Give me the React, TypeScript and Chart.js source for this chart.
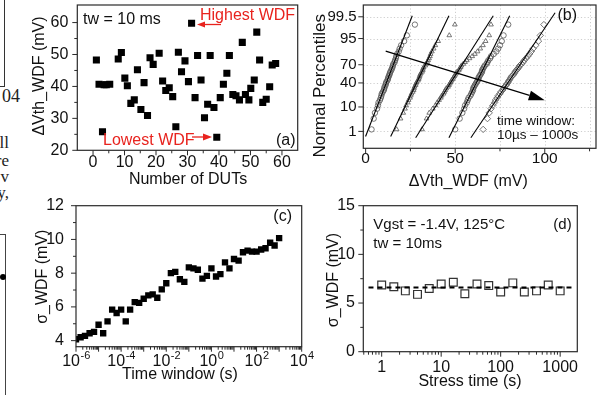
import React, { useEffect, useRef } from 'react';
import { Chart, registerables } from 'chart.js';

Chart.register(...registerables);

const SANS = '"Liberation Sans", Arial, Helvetica, sans-serif';
const SERIF = '"Liberation Serif", "Times New Roman", serif';
const RED = '#e8231e';
const INK = '#111111';
const FRAME = '#2a2a2a';

// ---------------- (a) ΔVth_WDF for each DUT, tw = 10 ms ----------------
const dutNumbers = [1.06, 1.9, 3.0, 3.5, 4.2, 5.3, 8, 9, 10.1, 10.9, 12.0, 13.1, 14.1, 15.2, 16.2, 17.3, 18.1, 19.1, 21, 22.1, 23.1, 24.2, 25.3, 26.3, 27.1, 28.1, 29.2, 30.3, 31.3, 32.4, 33.2, 34.3, 35.4, 36.4, 37.2, 38.4, 39.3, 40.4, 41.4, 42.5, 43.3, 44.4, 45.4, 46.5, 47.4, 48.4, 49.5, 50.1, 51.2, 52.0, 52.9, 53.9, 55.0, 56.1, 56.9, 58.0];
const wdfA = [48.3, 40.7, 25.8, 40.5, 40.5, 40.7, 48.6, 50.6, 42.6, 40.2, 34.7, 35.8, 45.2, 32.8, 41.2, 30.9, 49.0, 46.9, 50.4, 41.7, 38.7, 39.6, 36.8, 27.4, 50.7, 44.6, 48.0, 41.5, 59.8, 36.5, 49.7, 42.0, 30.2, 34.4, 49.7, 33.4, 24.1, 36.5, 40.7, 44.1, 49.7, 37.5, 37.1, 35.8, 53.8, 37.5, 35.8, 39.4, 42.0, 57.0, 48.3, 35.0, 36.0, 39.9, 46.7, 47.2];
const aXTicks = [0, 10, 20, 30, 40, 50, 60];
const aXLabels = ['0', '10', '20', '30', '40', '50', '60'];
const aXMinor = [5, 15, 25, 35, 45, 55];
const aYTicks = [20, 30, 40, 50, 60];
const aYLabels = ['20', '30', '40', '50', '60'];
const aYMinor = [25, 35, 45, 55];

// ---------------- (b) normal probability plots, 10 µs ... 1000 s ----------------
const percentileTicks = [1, 10, 40, 70, 95, 99.5];
const percentileLabels = ['1', '10', '40', '70', '95', '99.5'];
const bXTicks = [0, 50, 100];
const bXLabels = ['0', '50', '100'];
const bXMinor = [25, 75, 125];
const wdfWindow1 = [3.3, 4.5, 5.2, 6.4, 6.9, 7.2, 8.0, 8.5, 8.8, 9.0, 9.6, 10.2, 10.4, 10.6, 11.1, 11.3, 11.5, 12.1, 12.4, 12.6, 12.9, 13.3, 13.5, 13.8, 14.3, 14.6, 15.0, 15.2, 15.5, 16.2, 16.4, 16.9, 17.1, 17.6, 18.5, 19.0, 19.8, 21.5, 23.0, 27.5];
const wdfWindow2 = [17.3, 19.5, 21.0, 22.0, 22.6, 23.5, 24.0, 24.8, 25.2, 25.6, 26.3, 26.8, 27.0, 27.3, 27.9, 28.1, 28.5, 29.2, 29.6, 29.9, 30.1, 30.4, 30.8, 31.5, 31.9, 32.0, 32.4, 33.3, 33.8, 34.4, 34.9, 35.4, 35.9, 36.3, 37.0, 38.0, 38.9, 40.5, 46.7, 49.8];
const wdfWindow3 = [31.5, 34.0, 35.5, 37.5, 39.0, 40.0, 41.0, 42.0, 42.5, 43.5, 44.0, 44.5, 45.0, 46.0, 46.5, 47.0, 47.5, 48.0, 48.5, 49.0, 49.5, 50.0, 50.5, 51.0, 52.0, 52.5, 53.0, 53.5, 54.5, 55.5, 56.5, 58.0, 59.5, 61.0, 62.5, 64.0, 65.5, 67.0, 69.0, 70.0];
const wdfWindow4 = [50.0, 52.5, 54.0, 55.0, 55.5, 56.5, 57.0, 57.5, 58.5, 59.0, 59.5, 60.0, 60.0, 60.5, 61.0, 61.5, 62.0, 62.5, 63.0, 63.0, 63.5, 64.0, 64.5, 65.0, 65.0, 65.5, 66.0, 66.5, 67.5, 68.0, 68.5, 69.5, 70.0, 71.5, 73.0, 74.0, 75.0, 76.0, 77.0, 79.6];
const wdfWindow5 = [65.6, 68.0, 69.0, 70.0, 71.0, 72.0, 72.5, 73.5, 74.0, 75.0, 75.5, 76.5, 77.0, 77.5, 78.5, 79.0, 79.5, 80.0, 80.5, 81.0, 81.5, 82.5, 83.0, 83.5, 84.0, 85.0, 85.5, 86.0, 87.0, 88.0, 88.5, 89.5, 90.5, 91.5, 92.5, 93.5, 95.0, 96.5, 97.5, 99.5];
const windowGroups = [wdfWindow1, wdfWindow2, wdfWindow3, wdfWindow4, wdfWindow5];
const groupMarkers = ['circle', 'triangle', 'triangle', 'circle', 'rectRot'];
const fitMean = [12.8, 30.0, 49.5, 63.4, 81.6];
const fitSigma = [5.05, 6.3, 8.3, 6.5, 8.8];
const fitLowPct = [0.55, 0.55, 0.47, 0.47, 0.47];
const fitHighPct = [99.56, 99.56, 99.56, 99.56, 99.7];
const trendFrom = { wdf: 11.2, pct: 86.6 };
const trendTo = { wdf: 100, pct: 16.1 };

// ---------------- (c) σ_WDF vs time window ----------------
const timeWindow = [1e-6, 1.6e-6, 2.5e-6, 4e-6, 6.3e-6, 1e-5, 1.6e-5, 2.5e-5, 4e-5, 6.3e-5, 1e-4, 1.6e-4, 2.5e-4, 4e-4, 6.3e-4, 1e-3, 1.6e-3, 2.5e-3, 4e-3, 6.3e-3, 1e-2, 1.6e-2, 2.5e-2, 4e-2, 6.3e-2, 0.1, 0.16, 0.25, 0.4, 0.63, 1, 1.6, 2.5, 4, 6.3, 10, 16, 25, 40, 63, 100, 160, 250, 400, 630, 1000];
const sigmaWindow = [4.08, 4.2, 4.28, 4.44, 4.52, 4.94, 4.44, 5.14, 5.84, 5.64, 5.84, 5.14, 5.84, 6.28, 6.24, 6.48, 6.68, 6.74, 6.54, 7.04, 7.4, 8.0, 8.08, 7.64, 7.48, 8.34, 8.28, 8.2, 7.68, 7.84, 8.28, 7.8, 7.94, 8.64, 8.28, 8.84, 8.74, 9.24, 9.34, 9.28, 9.28, 9.4, 9.48, 9.8, 9.64, 10.08];
const cXTicks = [1e-6, 1e-5, 1e-4, 1e-3, 1e-2, 1e-1, 1, 10, 100, 1000, 10000];
const cXLabelValues = [1e-6, 1e-4, 1e-2, 1, 100, 10000];
const cXLabelExps = ['-6', '-4', '-2', '0', '2', '4'];
const cYTicks = [4, 6, 8, 10, 12];
const cYLabels = ['4', '6', '8', '10', '12'];
const cYMinor = [5, 7, 9, 11];

// ---------------- (d) σ_WDF vs stress time ----------------
const stressTime = [1, 1.6, 2.5, 4, 6.3, 10, 16, 25, 40, 63, 100, 160, 250, 400, 630, 1000];
const sigmaStress = [6.86, 6.68, 6.25, 5.89, 6.5, 6.96, 7.14, 5.96, 6.96, 6.79, 6.14, 7.07, 6.14, 6.25, 6.86, 6.25];
const sigmaStressAvg = 6.6;
const avgLineSpan = [0.6, 1550];
const dXTicks = [1, 10, 100, 1000];
const dXLabels = ['1', '10', '100', '1000'];
const dYTicks = [0, 5, 10, 15];
const dYLabels = ['0', '5', '10', '15'];
const dYMinor = [2.5, 7.5, 12.5];

// ---------------- helpers ----------------
function invNorm(p: number): number {
  const a = [-3.969683028665376e1, 2.209460984245205e2, -2.759285104469687e2, 1.38357751867269e2, -3.066479806614716e1, 2.506628277459239];
  const b = [-5.447609879822406e1, 1.615858368580409e2, -1.556989798598866e2, 6.680131188771972e1, -1.328068155288572e1];
  const c = [-7.784894002430293e-3, -3.223964580411365e-1, -2.400758277161838, -2.549732539343734, 4.374664141464968, 2.938163982698783];
  const d = [7.784695709041462e-3, 3.224671290700398e-1, 2.445134137142996, 3.754408661907416];
  const pl = 0.02425;
  if (p < pl) {
    const q = Math.sqrt(-2 * Math.log(p));
    return (((((c[0] * q + c[1]) * q + c[2]) * q + c[3]) * q + c[4]) * q + c[5]) / ((((d[0] * q + d[1]) * q + d[2]) * q + d[3]) * q + 1);
  }
  if (p <= 1 - pl) {
    const q = p - 0.5;
    const r = q * q;
    return ((((((a[0] * r + a[1]) * r + a[2]) * r + a[3]) * r + a[4]) * r + a[5]) * q) / (((((b[0] * r + b[1]) * r + b[2]) * r + b[3]) * r + b[4]) * r + 1);
  }
  const q = Math.sqrt(-2 * Math.log(1 - p));
  return -(((((c[0] * q + c[1]) * q + c[2]) * q + c[3]) * q + c[4]) * q + c[5]) / ((((d[0] * q + d[1]) * q + d[2]) * q + d[3]) * q + 1);
}
const probit = (pct: number) => invNorm(pct / 100);

function logMinors(min: number, max: number): number[] {
  const out: number[] = [];
  for (let e = Math.floor(Math.log10(min)); e <= Math.ceil(Math.log10(max)); e++) {
    for (let k = 2; k <= 9; k++) {
      const v = k * Math.pow(10, e);
      if (v > min && v < max) out.push(v);
    }
  }
  return out;
}

interface Txt { text: string; x: number; y: number; size?: number; color?: string; align?: CanvasTextAlign; rotate?: boolean }
interface Arrow { from: { x: number; y: number }; to: { x: number; y: number }; data?: boolean; color?: string; width?: number; headLen?: number; headHalf?: number }
interface Decor {
  xMajor: number[]; xMinor: number[]; yMajor: number[]; yMinor: number[];
  grid?: { x: number[]; y: number[] };
  texts: Txt[];
  arrows?: Arrow[];
  sup?: { values: number[]; exps: string[]; baseline: number };
}

function drawText(ctx: CanvasRenderingContext2D, t: Txt) {
  ctx.save();
  ctx.font = `${t.size ?? 16}px ${SANS}`;
  ctx.fillStyle = t.color ?? INK;
  ctx.textBaseline = 'middle';
  ctx.textAlign = t.align ?? (t.rotate ? 'center' : 'left');
  ctx.translate(t.x, t.y);
  if (t.rotate) ctx.rotate(-Math.PI / 2);
  ctx.fillText(t.text, 0, 0);
  ctx.restore();
}

function makeDecor(d: Decor) {
  return {
    id: 'decor',
    beforeDatasetsDraw(chart: any) {
      if (!d.grid) return;
      const { ctx, chartArea: a, scales } = chart;
      ctx.save();
      ctx.strokeStyle = '#c2c2c2';
      ctx.lineWidth = 0.8;
      ctx.setLineDash([1.2, 2.2]);
      ctx.beginPath();
      d.grid.x.forEach((v) => {
        const p = Math.round(scales.x.getPixelForValue(v)) + 0.5;
        ctx.moveTo(p, a.top); ctx.lineTo(p, a.bottom);
      });
      d.grid.y.forEach((v) => {
        const p = Math.round(scales.y.getPixelForValue(v)) + 0.5;
        ctx.moveTo(a.left, p); ctx.lineTo(a.right, p);
      });
      ctx.stroke();
      ctx.restore();
    },
    afterDraw(chart: any) {
      const { ctx, chartArea: a, scales } = chart;
      ctx.save();
      ctx.strokeStyle = FRAME;
      ctx.lineWidth = 1.2;
      ctx.strokeRect(a.left, a.top, a.right - a.left, a.bottom - a.top);
      ctx.lineWidth = 1;
      ctx.beginPath();
      const xt = (vals: number[], len: number) => vals.forEach((v) => {
        const p = scales.x.getPixelForValue(v);
        ctx.moveTo(p, a.bottom); ctx.lineTo(p, a.bottom + len);
      });
      const yt = (vals: number[], len: number) => vals.forEach((v) => {
        const p = scales.y.getPixelForValue(v);
        ctx.moveTo(a.left, p); ctx.lineTo(a.left - len, p);
      });
      xt(d.xMajor, 5); xt(d.xMinor, 3); yt(d.yMajor, 5); yt(d.yMinor, 3);
      ctx.stroke();
      ctx.restore();

      (d.arrows || []).forEach((ar) => {
        const f = ar.data ? { x: scales.x.getPixelForValue(ar.from.x), y: scales.y.getPixelForValue(ar.from.y) } : ar.from;
        const t = ar.data ? { x: scales.x.getPixelForValue(ar.to.x), y: scales.y.getPixelForValue(ar.to.y) } : ar.to;
        const ang = Math.atan2(t.y - f.y, t.x - f.x);
        const hl = ar.headLen ?? 8, hh = ar.headHalf ?? 3;
        const bx = t.x - hl * Math.cos(ang), by = t.y - hl * Math.sin(ang);
        ctx.save();
        ctx.strokeStyle = ar.color ?? INK;
        ctx.fillStyle = ar.color ?? INK;
        ctx.lineWidth = ar.width ?? 1.2;
        ctx.beginPath(); ctx.moveTo(f.x, f.y); ctx.lineTo(bx, by); ctx.stroke();
        ctx.beginPath();
        ctx.moveTo(t.x, t.y);
        ctx.lineTo(bx + hh * Math.sin(ang), by - hh * Math.cos(ang));
        ctx.lineTo(bx - hh * Math.sin(ang), by + hh * Math.cos(ang));
        ctx.closePath(); ctx.fill();
        ctx.restore();
      });

      if (d.sup) {
        ctx.save();
        ctx.fillStyle = INK;
        ctx.textBaseline = 'alphabetic';
        ctx.textAlign = 'left';
        d.sup.values.forEach((v, i) => {
          const p = scales.x.getPixelForValue(v);
          ctx.font = `16px ${SANS}`;
          const w1 = ctx.measureText('10').width;
          ctx.font = `11px ${SANS}`;
          const w2 = ctx.measureText(d.sup!.exps[i]).width;
          const x0 = p - (w1 + w2) / 2;
          ctx.font = `16px ${SANS}`;
          ctx.fillText('10', x0, d.sup!.baseline);
          ctx.font = `11px ${SANS}`;
          ctx.fillText(d.sup!.exps[i], x0 + w1 + 0.5, d.sup!.baseline - 7);
        });
        ctx.restore();
      }

      d.texts.forEach((t) => drawText(ctx, t));
    },
  };
}

function axisOpts(o: { horizontal: boolean; type?: string; min: number; max: number; ticks: number[]; labels?: string[]; size: number; gap: number; fontSize?: number }) {
  return {
    type: o.type || 'linear',
    position: o.horizontal ? 'bottom' : 'left',
    min: o.min,
    max: o.max,
    afterBuildTicks: (s: any) => { s.ticks = o.ticks.map((v) => ({ value: v })); },
    afterFit: (s: any) => {
      if (o.horizontal) { s.height = o.size; s.paddingLeft = 0; s.paddingRight = 0; }
      else { s.width = o.size; s.paddingTop = 0; s.paddingBottom = 0; }
    },
    grid: { display: false, drawTicks: true, tickLength: o.gap },
    border: { display: false },
    title: { display: false },
    ticks: {
      display: !!o.labels,
      padding: 0,
      autoSkip: false,
      maxRotation: 0,
      minRotation: 0,
      color: INK,
      font: { family: SANS, size: o.fontSize || 16 },
      callback: (_v: any, i: number) => (o.labels ? o.labels[i] : ''),
    },
  };
}

function baseOptions(pad: { top: number; right: number }, x: any, y: any) {
  return {
    responsive: false,
    maintainAspectRatio: false,
    animation: false as const,
    events: [] as any[],
    layout: { padding: { left: 0, top: pad.top, right: pad.right, bottom: 0 } },
    plugins: { legend: { display: false }, tooltip: { enabled: false }, title: { display: false } },
    scales: { x, y },
  };
}

// ---------------- chart builders ----------------
function configA(): any {
  return {
    type: 'scatter',
    data: {
      datasets: [{
        data: dutNumbers.map((x, i) => ({ x, y: wdfA[i] })),
        pointStyle: 'rect', pointRadius: 5, backgroundColor: '#000', borderColor: '#000', borderWidth: 0,
      }],
    },
    options: baseOptions({ top: 5, right: 12.3 },
      axisOpts({ horizontal: true, min: -5, max: 65, ticks: aXTicks, labels: aXLabels, size: 49.7, gap: 3 }),
      axisOpts({ horizontal: false, min: 20, max: 65.5, ticks: aYTicks, labels: aYLabels, size: 77.3, gap: 9 })),
    plugins: [makeDecor({
      xMajor: aXTicks, xMinor: aXMinor, yMajor: aYTicks, yMinor: aYMinor,
      texts: [
        { text: 'ΔVth_WDF (mV)', x: 40, y: 76, rotate: true },
        { text: 'Number of DUTs', x: 188, y: 180, align: 'center' },
        { text: 'tw = 10 ms', x: 83, y: 20 },
        { text: 'Highest WDF', x: 200, y: 15.5, color: RED },
        { text: 'Lowest WDF', x: 103, y: 140.5, color: RED },
        { text: '(a)', x: 295.5, y: 140.5, align: 'right' },
      ],
      arrows: [
        { from: { x: 221, y: 24.5 }, to: { x: 197, y: 24.5 }, color: RED, width: 1.3, headLen: 8, headHalf: 3 },
        { from: { x: 192, y: 137 }, to: { x: 212, y: 137 }, color: RED, width: 1.3, headLen: 9, headHalf: 3.5 },
      ],
    })],
  };
}

function configB(): any {
  const zTicks = percentileTicks.map(probit);
  const datasets: any[] = [];
  windowGroups.forEach((g, gi) => {
    datasets.push({
      data: [
        { x: fitMean[gi] + fitSigma[gi] * probit(fitLowPct[gi]), y: probit(fitLowPct[gi]) },
        { x: fitMean[gi] + fitSigma[gi] * probit(fitHighPct[gi]), y: probit(fitHighPct[gi]) },
      ],
      showLine: true, borderColor: '#000', borderWidth: 1.1, pointRadius: 0,
    });
  });
  windowGroups.forEach((g, gi) => {
    const sorted = [...g].sort((p, q) => p - q);
    datasets.push({
      data: sorted.map((v, i) => ({ x: v, y: invNorm((i + 0.5) / sorted.length) })),
      pointStyle: groupMarkers[gi], pointRadius: gi === 4 ? 3.2 : 2.7,
      backgroundColor: 'rgba(0,0,0,0)', borderColor: '#555', borderWidth: 0.8,
    });
  });
  return {
    type: 'scatter',
    data: { datasets },
    options: baseOptions({ top: 5, right: 12 },
      axisOpts({ horizontal: true, min: -1.3, max: 128.6, ticks: bXTicks, labels: bXLabels, size: 51.7, gap: 1, fontSize: 15.5 }),
      axisOpts({ horizontal: false, min: -3.05, max: 3.08, ticks: zTicks, labels: percentileLabels, size: 63.3, gap: 6.6, fontSize: 15 })),
    plugins: [makeDecor({
      xMajor: bXTicks, xMinor: bXMinor, yMajor: zTicks, yMinor: [],
      grid: { x: [25, 50, 75, 100, 125], y: zTicks },
      texts: [
        { text: 'Normal Percentiles', x: 20.8, y: 85.8, rotate: true, size: 17 },
        { text: 'ΔVth_WDF (mV)', x: 168.3, y: 181.7, align: 'center' },
        { text: '(b)', x: 277, y: 15.7, align: 'right' },
        { text: 'time window:', x: 197, y: 121.7, size: 13.5 },
        { text: '10µs – 1000s', x: 197, y: 135, size: 13.5 },
      ],
      arrows: [
        { from: { x: trendFrom.wdf, y: probit(trendFrom.pct) }, to: { x: trendTo.wdf, y: probit(trendTo.pct) }, data: true, color: '#000', width: 1.2, headLen: 16, headHalf: 5 },
      ],
    })],
  };
}

function configC(): any {
  return {
    type: 'scatter',
    data: {
      datasets: [{
        data: timeWindow.map((x, i) => ({ x, y: sigmaWindow[i] })),
        pointStyle: 'rect', pointRadius: 4.5, backgroundColor: '#000', borderColor: '#000', borderWidth: 0,
      }],
    },
    options: baseOptions({ top: 10.7, right: 18.3 },
      axisOpts({ horizontal: true, type: 'logarithmic', min: 1e-6, max: 1e4, ticks: cXTicks, size: 54.3, gap: 6 }),
      axisOpts({ horizontal: false, min: 3.64, max: 12, ticks: cYTicks, labels: cYLabels, size: 76, gap: 12 })),
    plugins: [makeDecor({
      xMajor: cXTicks, xMinor: logMinors(1e-6, 1e4), yMajor: cYTicks, yMinor: cYMinor,
      sup: { values: cXLabelValues, exps: cXLabelExps, baseline: 170.5 },
      texts: [
        { text: 'σ_WDF (mV)', x: 42.5, y: 81.7, rotate: true },
        { text: 'Time window (s)', x: 180, y: 180, align: 'center' },
        { text: '(c)', x: 292, y: 21.7, align: 'right' },
      ],
    })],
  };
}

function configD(): any {
  return {
    type: 'scatter',
    data: {
      datasets: [
        {
          data: avgLineSpan.map((x) => ({ x, y: sigmaStressAvg })),
          showLine: true, borderColor: '#000', borderWidth: 2, borderDash: [5, 4], pointRadius: 0,
        },
        {
          data: stressTime.map((x, i) => ({ x, y: sigmaStress[i] })),
          pointStyle: 'rect', pointRadius: 5.5, backgroundColor: 'rgba(0,0,0,0)', borderColor: '#333', borderWidth: 1.2,
        },
      ],
    },
    options: baseOptions({ top: 10.7, right: 30.7 },
      axisOpts({ horizontal: true, type: 'logarithmic', min: 0.491, max: 1941, ticks: dXTicks, labels: dXLabels, size: 49.3, gap: 6 }),
      axisOpts({ horizontal: false, min: 0, max: 15, ticks: dYTicks, labels: dYLabels, size: 63.3, gap: 8.3 })),
    plugins: [makeDecor({
      xMajor: dXTicks, xMinor: logMinors(0.491, 1941), yMajor: dYTicks, yMinor: dYMinor,
      texts: [
        { text: 'σ_WDF (mV)', x: 34, y: 85, rotate: true },
        { text: 'Stress time (s)', x: 170, y: 186.7, align: 'center' },
        { text: 'Vgst = -1.4V, 125°C', x: 73.3, y: 30, size: 15 },
        { text: 'tw = 10ms', x: 73.3, y: 49.3, size: 15 },
        { text: '(d)', x: 271.7, y: 30, size: 15, align: 'right' },
      ],
    })],
  };
}

function Panel(props: { left: number; top: number; width: number; height: number; build: () => any }) {
  const ref = useRef<HTMLCanvasElement>(null);
  useEffect(() => {
    const chart = new Chart(ref.current as HTMLCanvasElement, props.build());
    return () => chart.destroy();
  }, []);
  return (
    <canvas
      ref={ref}
      width={props.width}
      height={props.height}
      style={{ position: 'absolute', left: props.left, top: props.top, width: props.width, height: props.height }}
    />
  );
}

function EdgeText(props: { text: string; right: number; cy: number; size?: number }) {
  const size = props.size ?? 17;
  return (
    <div style={{ position: 'absolute', left: 0, width: props.right, top: props.cy - size * 0.6, height: size * 1.2, display: 'flex', justifyContent: 'flex-end', whiteSpace: 'nowrap', font: `${size}px ${SERIF}`, lineHeight: `${size * 1.2}px`, color: '#222' }}>
      {props.text}
    </div>
  );
}

export default function App() {
  return (
    <div style={{ position: 'absolute', left: 0, top: 0, width: 608, height: 401, background: '#fff', overflow: 'hidden' }}>
      <div style={{ position: 'absolute', left: 3.5, top: 0, width: 1.2, height: 86, background: '#333' }} />
      <div style={{ position: 'absolute', left: 0, top: 85.5, width: 4.5, height: 1.2, background: '#333' }} />
      <EdgeText text="04" right={20} cy={97} size={18} />
      <EdgeText text="ll" right={9} cy={143} />
      <EdgeText text="re" right={9} cy={161} />
      <EdgeText text="v" right={9} cy={177} />
      <EdgeText text="y," right={9} cy={193} />
      <div style={{ position: 'absolute', left: 0, top: 234, width: 5, height: 1.2, background: '#444' }} />
      <div style={{ position: 'absolute', left: 4.5, top: 234, width: 1.2, height: 161, background: '#444' }} />
      <div style={{ position: 'absolute', left: 0, top: 274, width: 6, height: 6, borderRadius: 3, background: '#000' }} />
      <Panel left={0} top={0} width={310} height={200} build={configA} />
      <Panel left={300} top={0} width={308} height={200} build={configB} />
      <Panel left={0} top={195} width={320} height={206} build={configC} />
      <Panel left={300} top={195} width={308} height={206} build={configD} />
    </div>
  );
}
